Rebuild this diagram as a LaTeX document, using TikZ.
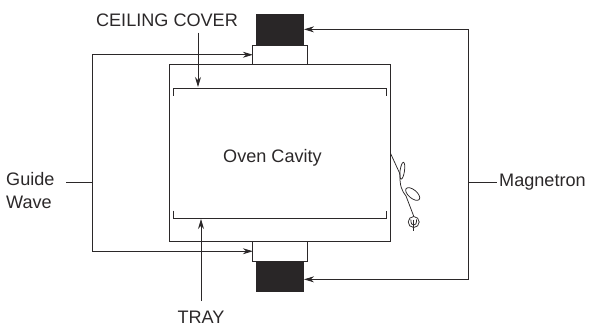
\documentclass[tikz,border=0pt]{standalone}
\usepackage{fontspec}
\setmainfont{Liberation Sans}
\usetikzlibrary{
    arrows.meta,
    positioning,
    calc
}
\definecolor{inkdark}{HTML}{2B2829}
\tikzset{
    chamber/.style = {
        rectangle,
        draw=inkdark,
        line width=0.95pt,
        inner sep=0pt,
        outer sep=0pt
    },
    core/.style = {
        rectangle,
        fill=inkdark!95!black,
        inner sep=0pt,
        outer sep=0pt,
        minimum width=48pt,
        minimum height=31.3pt
    },
    label/.style = {
        text=inkdark,
        inner sep=0pt,
        align=left,
        font=\fontsize{18.1}{23}\selectfont
    },
    wire/.style = {
        draw=inkdark,
        line width=0.85pt
    },
    arrow/.style = {
        wire,
        -{Stealth[length=10pt,width=6pt]}
    }
}
\begin{document}
\begin{tikzpicture}[x=1pt,y=-1pt]
\useasboundingbox (0,0) rectangle (589,327);

\node (cavity) [chamber, minimum width=221pt, minimum height=177pt] at (280,153) {};
\node (topstub) [chamber, minimum width=54.3pt, minimum height=19.5pt, above=0pt of cavity] {};
\node (bottomstub) [chamber, minimum width=54.3pt, minimum height=19.5pt, below=0pt of cavity] {};
\node (topcore) [core, above=0pt of topstub] {};
\node (bottomcore) [core, below=0pt of bottomstub] {};

\node (oven) [label] at (272.5,158) {Oven Cavity};
\node (ceiling) [label] at (167,20) {CEILING COVER};
\node (tray) [label] at (201,317) {TRAY};
\node (guide) [label, anchor=west] at (6,190.5) {Guide\\Wave};
\node (magnetron) [label, anchor=west] at (499,182) {Magnetron};

% cover and tray
\coordinate (coverleft) at (173.3,88);
\coordinate (coverright) at (386.7,88);
\coordinate (trayleft) at (173.3,218.4);
\coordinate (trayright) at (386.7,218.4);
\draw [wire] ($(coverleft)+(0,7.7)$) -- (coverleft) -- (coverright) -- ($(coverright)+(0,7.7)$);
\draw [wire] ($(trayleft)+(0,-7.7)$) -- (trayleft) -- (trayright) -- ($(trayright)+(0,-7.7)$);

\coordinate (covertip) at (198,87);
\coordinate (coverstart) at (198,32.7);
\coordinate (traytip) at (201,219);
\coordinate (traystart) at (201,301);
\draw [arrow] (coverstart) -- (covertip);
\draw [arrow] (traystart) -- (traytip);

% guide side
\coordinate (guidebus) at (92,182.3);
\coordinate (guidestub) at (66,182.3);
\draw [wire] (guidestub) -- (guidebus);
\draw [arrow] (guidebus) |- (topstub.west);
\draw [arrow] (guidebus) |- (bottomstub.west);

% magnetron side
\coordinate (magbus) at (468,182.3);
\coordinate (magstub) at (497,182.3);
\draw [wire] (magbus) -- (magstub);
\draw [arrow] (magbus) |- (topcore.east);
\draw [arrow] (magbus) |- ([yshift=-2.7pt]bottomcore.east);

% lamp switch
\coordinate (lampstart) at (cavity.east |- 0,153.3);
\node (lamp) [circle, draw=inkdark, line width=0.75pt, minimum size=11pt, inner sep=0pt] at (413.7,222) {};
\draw [wire, line width=0.75pt] (lampstart) -- (400,174) .. controls (399.5,186) and (402,191) .. (406,196) -- (lamp.north);
\draw [wire, line width=0.75pt, rotate around={-8:(402.3,170.7)}] (402.3,170.7) ellipse (2.2pt and 8.5pt);
\draw [wire, line width=0.75pt, rotate around={-40:(412.7,194)}] (412.7,194) ellipse (8.5pt and 4.2pt);
\draw [wire, line width=0.75pt] (410.8,219.5) .. controls (411,224) and (412,225) .. (413.7,225) .. controls (415.5,225) and (416.5,224) .. (416.6,219.5);
\draw [wire, line width=0.75pt] (413.7,219.5) -- (413.7,231);
\end{tikzpicture}
\end{document}
